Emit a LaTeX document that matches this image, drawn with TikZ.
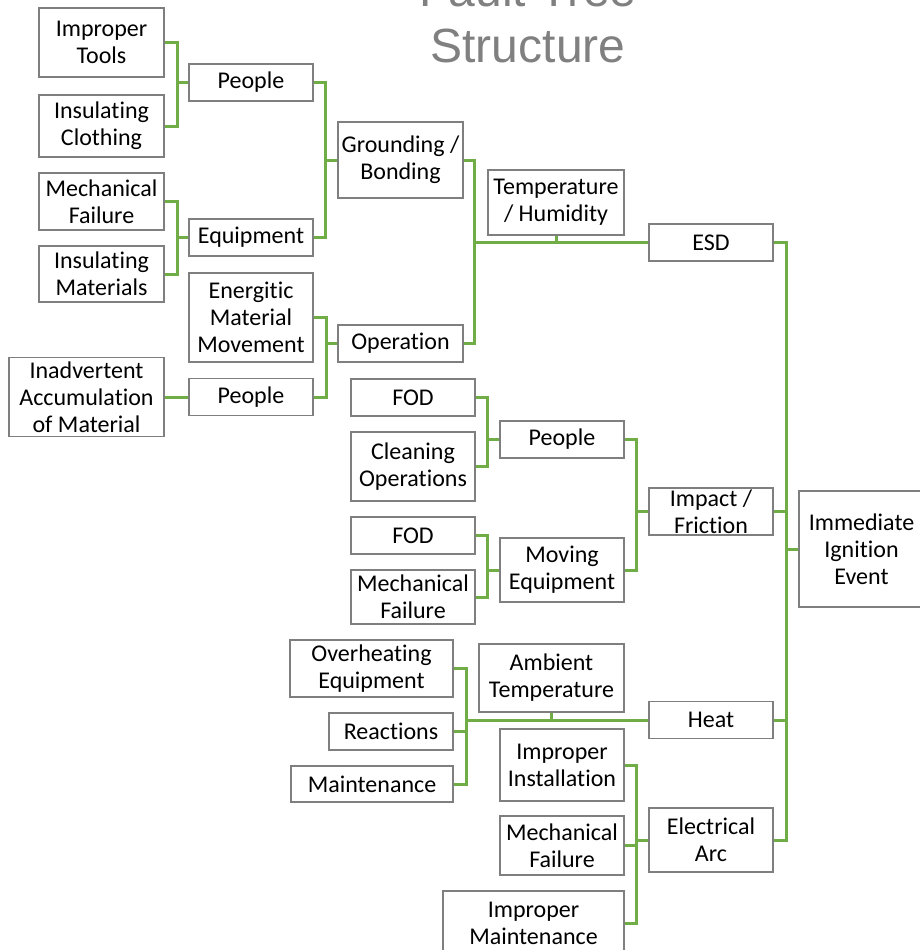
\documentclass[tikz,border=0pt]{standalone}
\usepackage{fontspec}
\setmainfont{Carlito}[Ligatures=NoCommon]
\newfontfamily\titlefont{Liberation Sans}
\definecolor{wiregreen}{HTML}{70AD47}
\definecolor{framegray}{HTML}{7F7F7F}
\definecolor{titlegray}{HTML}{808080}
\begin{document}
\begin{tikzpicture}[x=1pt,y=-1pt,
  box/.style={draw=framegray, fill=white, line width=1.3pt, inner sep=0pt,
    align=center, font=\fontsize{24}{27}\selectfont},
  wire/.style={draw=wiregreen, line width=3pt},
  titletext/.style={font=\titlefont\fontsize{48}{56}\selectfont,
    text=titlegray, anchor=base, inner sep=0pt}]
\useasboundingbox (0,0) rectangle (920,950);
\clip (0,0) rectangle (920,950);

% title
\node[titletext] (title1) at (528,7) {Fault Tree};
\node[titletext] (title2) at (528,63) {Structure};

% ESD branch
\node[box, minimum width=125pt, minimum height=69pt] (it) at (101.5,42.5) {Improper\\Tools};
\node[box, minimum width=125pt, minimum height=62pt] (ic) at (101.5,126) {Insulating\\Clothing};
\node[box, minimum width=124pt, minimum height=37pt] (pe1) at (251,82.5) {People};
\node[box, minimum width=125pt, minimum height=76pt] (gb) at (400.5,160) {Grounding /\\Bonding};
\node[box, minimum width=125pt, minimum height=57pt] (mf1) at (101.5,201.5) {Mechanical\\Failure};
\node[box, minimum width=125pt, minimum height=56pt] (im) at (101.5,274) {Insulating\\Materials};
\node[box, minimum width=124pt, minimum height=37pt] (eq) at (251,237.5) {Equipment};
\node[box, minimum width=136pt, minimum height=65pt] (th) at (556,202.5) {Temperature\\/ Humidity};
\node[box, minimum width=124pt, minimum height=37pt] (esd) at (711,242.5) {ESD};
\node[box, minimum width=124pt, minimum height=89pt] (emm) at (251,317.5) {Energitic\\Material\\Movement};
\node[box, minimum width=125pt, minimum height=37pt] (op) at (400.5,343.5) {Operation};
\node[box, minimum width=155pt, minimum height=79pt] (iam) at (86.5,397) {Inadvertent\\Accumulation\\of Material};
\node[box, minimum width=124pt, minimum height=37pt] (pe2) at (251,397) {People};

% impact / friction branch
\node[box, minimum width=124pt, minimum height=37pt] (fod1) at (413,397.5) {FOD};
\node[box, minimum width=124pt, minimum height=69pt] (co) at (413,466.5) {Cleaning\\Operations};
\node[box, minimum width=124pt, minimum height=37pt] (pe3) at (562,439.5) {People};
\node[box, minimum width=124pt, minimum height=47pt] (impf) at (711,511.5) {Impact /\\Friction};
\node[box, minimum width=124pt, minimum height=37pt] (fod2) at (413,535.5) {FOD};
\node[box, minimum width=124pt, minimum height=54pt] (mf2) at (413,597) {Mechanical\\Failure};
\node[box, minimum width=124pt, minimum height=64pt] (meq) at (562,570) {Moving\\Equipment};

% top event
\node[box, minimum width=125pt, minimum height=116pt] (iie) at (861.5,549) {Immediate\\Ignition\\Event};

% heat branch
\node[box, minimum width=163pt, minimum height=57pt] (oh) at (371.5,668.5) {Overheating\\Equipment};
\node[box, minimum width=124pt, minimum height=37pt] (re) at (391,731.5) {Reactions};
\node[box, minimum width=162pt, minimum height=36pt] (mt) at (372,784) {Maintenance};
\node[box, minimum width=145pt, minimum height=68pt] (at) at (551.5,678) {Ambient\\Temperature};
\node[box, minimum width=124pt, minimum height=37pt] (heat) at (711,720) {Heat};

% electrical arc branch
\node[box, minimum width=124pt, minimum height=72pt] (ii) at (562,765) {Improper\\Installation};
\node[box, minimum width=124pt, minimum height=59pt] (mf3) at (562,845.5) {Mechanical\\Failure};
\node[box, minimum width=124pt, minimum height=64pt] (ea) at (711,840) {Electrical\\Arc};
\node[box, minimum width=181pt, minimum height=64pt] (imn) at (533.5,923) {Improper\\Maintenance};

% bus lines
\coordinate (bA) at (177,0);
\coordinate (bB) at (325,0);
\coordinate (bD) at (474,0);
\coordinate (bE) at (326,0);
\coordinate (bF) at (487,0);
\coordinate (bG) at (636,0);
\coordinate (bH) at (466,0);
\coordinate (bI) at (786,0);

\draw[wire] (it.east) -- (it.east -| bA) -- (ic.east -| bA) -- (ic.east);
\draw[wire] (pe1.west) -- (pe1.west -| bA);
\draw[wire] (mf1.east) -- (mf1.east -| bA) -- (im.east -| bA) -- (im.east);
\draw[wire] (eq.west) -- (eq.west -| bA);
\draw[wire] (pe1.east) -- (pe1.east -| bB) -- (eq.east -| bB) -- (eq.east);
\draw[wire] (gb.west) -- (gb.west -| bB);
\draw[wire] (gb.east) -- (gb.east -| bD) -- (op.east -| bD) -- (op.east);
\draw[wire] (esd.west -| bD) -- (esd.west);
\draw[wire] (th.south) -- (th.south |- esd.west);
\draw[wire] (emm.east) -- (emm.east -| bE) -- (pe2.east -| bE) -- (pe2.east);
\draw[wire] (op.west) -- (op.west -| bE);
\draw[wire] (iam.east) -- (pe2.west);

\draw[wire] (fod1.east) -- (fod1.east -| bF) -- (co.east -| bF) -- (co.east);
\draw[wire] (pe3.west) -- (pe3.west -| bF);
\draw[wire] (fod2.east) -- (fod2.east -| bF) -- (mf2.east -| bF) -- (mf2.east);
\draw[wire] (meq.west) -- (meq.west -| bF);
\draw[wire] (pe3.east) -- (pe3.east -| bG) -- (meq.east -| bG) -- (meq.east);
\draw[wire] (impf.west) -- (impf.west -| bG);

\draw[wire] (oh.east) -- (oh.east -| bH) -- (mt.east -| bH) -- (mt.east);
\draw[wire] (re.east) -- (re.east -| bH);
\draw[wire] (heat.west -| bH) -- (heat.west);
\draw[wire] (at.south) -- (at.south |- heat.west);

\draw[wire] (ii.east) -- (ii.east -| bG) -- (imn.east -| bG) -- (imn.east);
\draw[wire] (mf3.east) -- (mf3.east -| bG);
\draw[wire] (ea.west) -- (ea.west -| bG);

\draw[wire] (esd.east) -- (esd.east -| bI) -- (ea.east -| bI) -- (ea.east);
\draw[wire] (impf.east) -- (impf.east -| bI);
\draw[wire] (heat.east) -- (heat.east -| bI);
\draw[wire] (iie.west) -- (iie.west -| bI);
\end{tikzpicture}
\end{document}
